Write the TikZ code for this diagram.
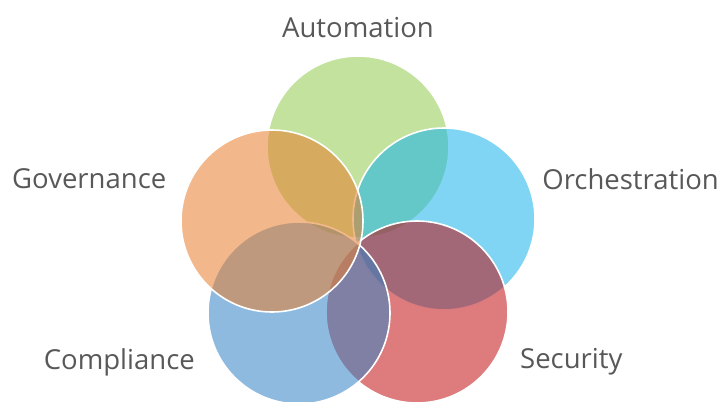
\documentclass[tikz,border=0pt]{standalone}
\usepackage{fontspec}
\setmainfont{Open Sans}
\usepackage{tikz}

\definecolor{automation}{RGB}{144,202,79}
\definecolor{orchestration}{RGB}{22,179,233}
\definecolor{security}{RGB}{193,15,19}
\definecolor{compliance}{RGB}{51,130,197}
\definecolor{governance}{RGB}{232,126,45}
\definecolor{labelgray}{RGB}{88,88,88}

\begin{document}
\begin{tikzpicture}[
        x=1pt, y=-1pt,
        font=\fontsize{27.5}{32}\selectfont,
        petal/.style={
            circle,
            minimum size=182pt,
            inner sep=0pt,
            draw=white,
            line width=1.6pt,
            fill opacity=0.55
        },
        tag/.style={text=labelgray, inner sep=0pt}
    ]

    \useasboundingbox (0,0) rectangle (721,402);

    % petals, back to front
    \node[petal, fill=automation] (auto) at (358,147) {};
    \node[petal, fill=orchestration] (orch) at (444,219) {};
    \node[petal, fill=security] (sec) at (417,312) {};
    \node[petal, fill=compliance] (comp) at (299,313) {};
    \node[petal, fill=governance] (gov) at (272,221) {};

    % labels
    \node[tag] (autolabel) at (358,28) {Automation};
    \node[tag, anchor=east] (orchlabel) at (719,179) {Orchestration};
    \node[tag, anchor=west] (govlabel) at (12,179) {Governance};
    \node[tag, anchor=east] (complabel) at (195,362) {Compliance};
    \node[tag, anchor=west] (seclabel) at (520,362) {Security};

\end{tikzpicture}
\end{document}
